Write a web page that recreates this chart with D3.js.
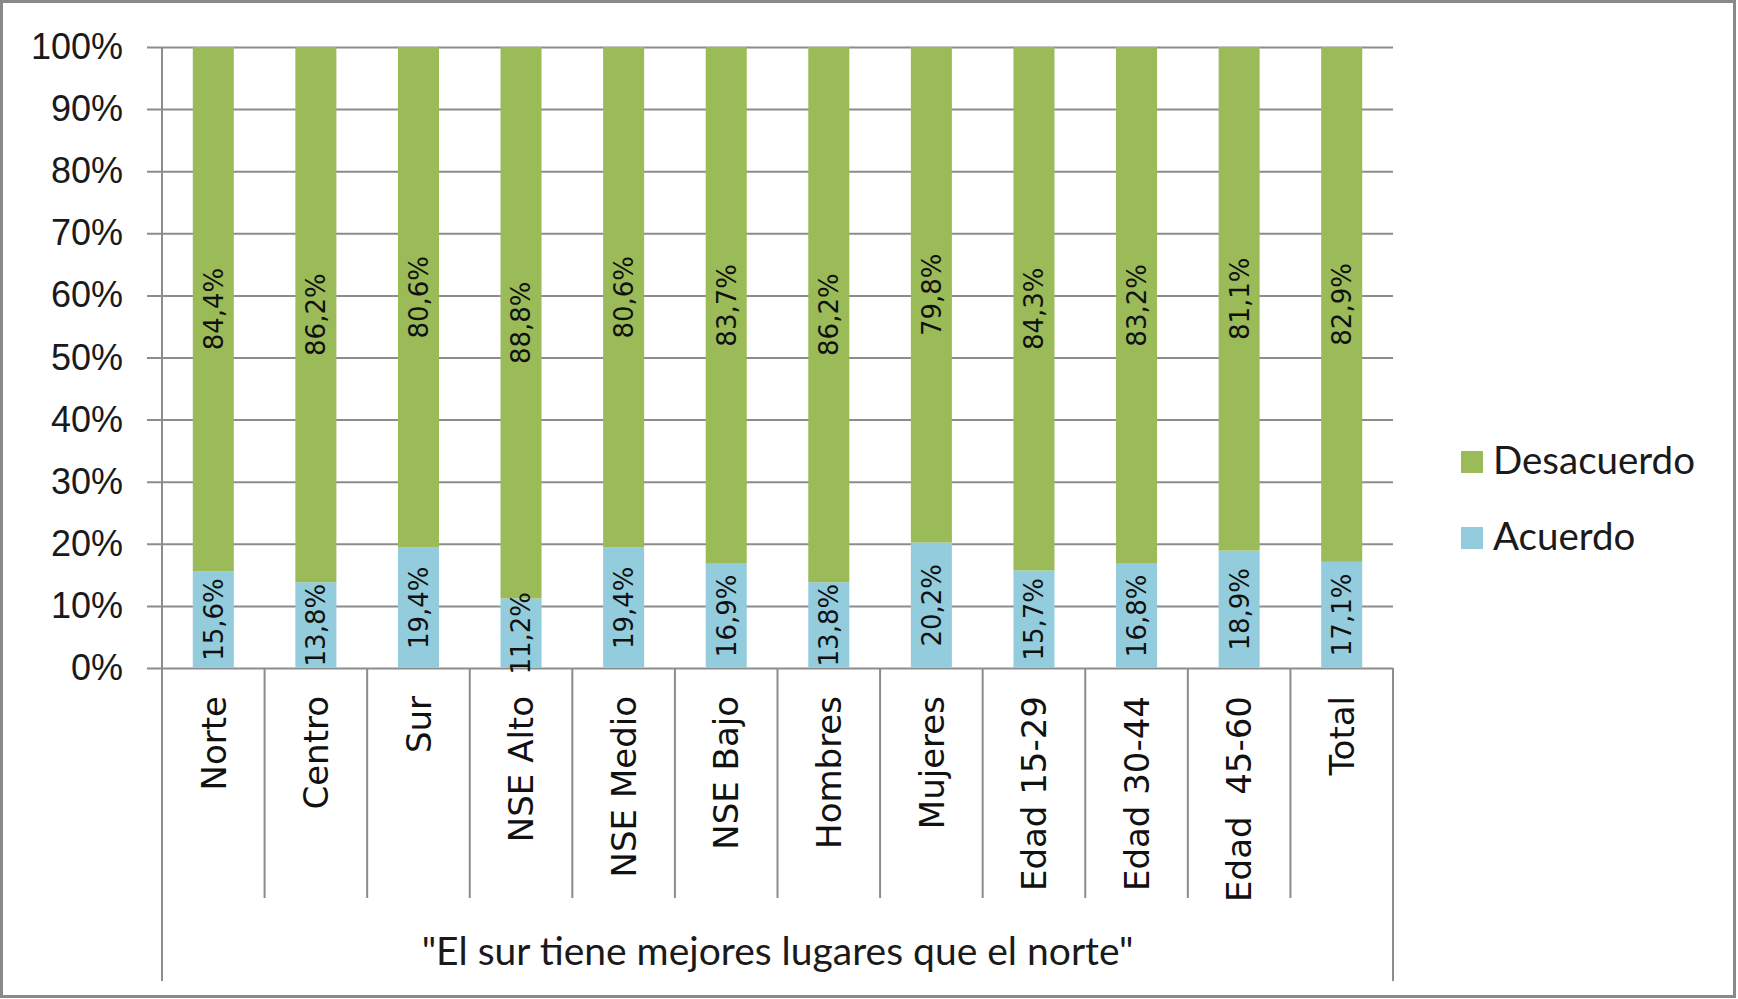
<!DOCTYPE html>
<html>
<head>
<meta charset="utf-8">
<script src="https://cdn.jsdelivr.net/npm/d3@7"></script>
<style>
    body { margin: 0; background: #fff; }
    svg { display: block; }
</style>
</head>
<body>
<div id="chart"></div>
<script>
const categories = ["Norte", "Centro", "Sur", "NSE Alto", "NSE Medio", "NSE Bajo",
    "Hombres", "Mujeres", "Edad 15-29", "Edad 30-44", "Edad  45-60", "Total"];
const acuerdo = [15.6, 13.8, 19.4, 11.2, 19.4, 16.9, 13.8, 20.2, 15.7, 16.8, 18.9, 17.1];
const desacuerdo = [84.4, 86.2, 80.6, 88.8, 80.6, 83.7, 86.2, 79.8, 84.3, 83.2, 81.1, 82.9];
const seriesNames = ["Acuerdo", "Desacuerdo"];
const yTicks = [0, 0.1, 0.2, 0.3, 0.4, 0.5, 0.6, 0.7, 0.8, 0.9, 1];
const groupTitle = "\"El sur tiene mejores lugares que el norte\"";

const WIDTH = 1738;
const HEIGHT = 999;
const PLOT = {left: 162, right: 1393, top: 47, bottom: 668};
const COLORS = {Acuerdo: "#93cddd", Desacuerdo: "#9bbb59"};
const GRID = "#8c8c8c";

const rows = categories.map((c, i) => ({cat: c, Acuerdo: acuerdo[i], Desacuerdo: desacuerdo[i]}));

const svg = d3.select("#chart")
    .append("svg")
        .attr("width", WIDTH)
        .attr("height", HEIGHT);

svg.append("rect")
    .attr("x", 1.5).attr("y", 1.5)
    .attr("width", 1733).attr("height", 995)
    .attr("fill", "#fff")
    .attr("stroke", "#8a8a8a")
    .attr("stroke-width", 3);

const x = d3.scaleBand()
    .domain(categories)
    .range([PLOT.left, PLOT.right])
    .paddingInner(0.6)
    .paddingOuter(0.3);

const y = d3.scaleLinear()
    .domain([0, 1])
    .range([PLOT.bottom, PLOT.top]);

// gridlines + tick labels
const yAxis = d3.axisLeft(y)
    .tickValues(yTicks)
    .tickSizeInner(PLOT.right - 147)
    .tickSizeOuter(0)
    .tickPadding(24)
    .tickFormat(d3.format(".0%"));

const gy = svg.append("g")
    .attr("transform", `translate(${PLOT.right}, 0)`)
    .call(yAxis);
gy.select(".domain").remove();
gy.selectAll("line").attr("stroke", GRID).attr("stroke-width", 2);
gy.selectAll("text")
    .attr("font-family", "'Liberation Sans', Arial, sans-serif")
    .attr("font-size", 36)
    .attr("fill", "#1a1a1a");

// category boxes below the axis
const step = x.step();
const bounds = d3.range(1, categories.length).map(i => PLOT.left + i * step);
svg.append("g").selectAll("line")
    .data(bounds)
    .join("line")
        .attr("x1", d => d).attr("x2", d => d)
        .attr("y1", PLOT.bottom).attr("y2", 898)
        .attr("stroke", GRID).attr("stroke-width", 2);

svg.append("line")
    .attr("x1", PLOT.left).attr("x2", PLOT.left)
    .attr("y1", PLOT.top).attr("y2", 981)
    .attr("stroke", GRID).attr("stroke-width", 2);
svg.append("line")
    .attr("x1", PLOT.right).attr("x2", PLOT.right)
    .attr("y1", PLOT.bottom).attr("y2", 981)
    .attr("stroke", GRID).attr("stroke-width", 2);

// stacked bars, normalised to 100%
const stack = d3.stack()
    .keys(seriesNames)
    .offset(d3.stackOffsetExpand);
const layers = stack(rows);

const layerG = svg.append("g").selectAll("g")
    .data(layers)
    .join("g")
        .attr("fill", d => COLORS[d.key]);

layerG.selectAll("rect")
    .data(d => d)
    .join("rect")
        .attr("x", d => x(d.data.cat))
        .attr("width", x.bandwidth())
        .attr("y", d => y(d[1]))
        .attr("height", d => y(d[0]) - y(d[1]));

// value labels
const fmt = v => v.toFixed(1).replace(".", ",") + "%";
layers.forEach(layer => {
    svg.append("g").selectAll("text")
        .data(layer)
        .join("text")
            .attr("transform", d => `translate(${x(d.data.cat) + x.bandwidth() / 2}, ${(y(d[0]) + y(d[1])) / 2}) rotate(-90)`)
            .attr("text-anchor", "middle")
            .attr("dy", "0.36em")
            .attr("font-family", "'DejaVu Sans', Verdana, sans-serif")
            .attr("font-size", 26)
            .attr("fill", "#111")
            .text(d => fmt(d.data[layer.key]));
});

// category labels
svg.append("g").selectAll("text")
    .data(categories)
    .join("text")
        .attr("transform", d => `translate(${x(d) + x.bandwidth() / 2}, 696) rotate(-90)`)
        .attr("text-anchor", "end")
        .attr("dy", "0.36em")
        .attr("font-family", "'DejaVu Sans', Verdana, sans-serif")
        .attr("font-size", 34)
        .attr("fill", "#111")
        .style("white-space", "pre")
        .text(d => d);

svg.append("text")
    .attr("x", (PLOT.left + PLOT.right) / 2)
    .attr("y", 965)
    .attr("text-anchor", "middle")
    .attr("font-family", "Lato, 'Open Sans', sans-serif")
    .attr("font-size", 39)
    .attr("fill", "#1a1a1a")
    .text(groupTitle);

// legend
const legendItems = ["Desacuerdo", "Acuerdo"];
const lg = svg.append("g").selectAll("g")
    .data(legendItems)
    .join("g")
        .attr("transform", (d, i) => `translate(1461, ${451 + i * 76})`);
lg.append("rect")
    .attr("width", 22).attr("height", 22)
    .attr("fill", d => COLORS[d]);
lg.append("text")
    .attr("x", 32).attr("y", 23)
    .attr("font-family", "Lato, 'Open Sans', sans-serif")
    .attr("font-size", 38.5)
    .attr("fill", "#1a1a1a")
    .text(d => d);
</script>
</body>
</html>
